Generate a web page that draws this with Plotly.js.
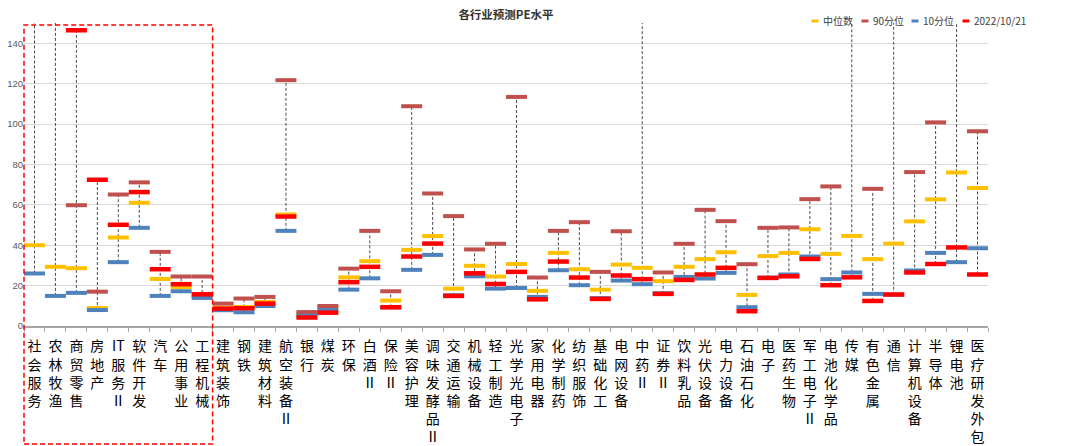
<!DOCTYPE html>
<html>
<head>
<meta charset="utf-8">
<script src="https://cdn.plot.ly/plotly-3.0.1.min.js"></script>
<style>html,body{margin:0;padding:0;background:#fff;}#chart{width:1080px;height:446px;}</style>
</head>
<body>
<div id="chart"></div>
<script>
const categories = ["社会服务","农林牧渔","商贸零售","房地产","IT服务Ⅱ","软件开发","汽车","公用事业","工程机械",
  "建筑装饰","钢铁","建筑材料","航空装备Ⅱ","银行","煤炭","环保","白酒Ⅱ","保险Ⅱ","美容护理","调味发酵品Ⅱ",
  "交通运输","机械设备","轻工制造","光学光电子","家用电器","化学制药","纺织服饰","基础化工","电网设备","中药Ⅱ",
  "证券Ⅱ","饮料乳品","光伏设备","电力设备","石油石化","电子","医药生物","军工电子Ⅱ","电池化学品","传媒",
  "有色金属","通信","计算机设备","半导体","锂电池","医疗研发外包"];

const median = [40, 29.3, 28.6, 8.9, 43.8, 61.0, 23.3, 19.3, 14.8, 9.1, 9.4, 11.9, 55.2, 6.0, 9.1, 24.1, 32.1, 12.6, 37.7, 44.5,
  18.5, 29.8, 24.5, 30.7, 17.4, 36.2, 28.1, 18.0, 30.4, 28.8, 22.2, 29.3, 33.1, 36.5, 15.4, 34.6, 36.2, 47.9, 35.7, 44.6,
  33.1, 40.8, 51.8, 62.7, 76.0, 68.3];
const p90 = [220, 200, 59.8, 17.0, 65.1, 71.1, 36.7, 24.5, 24.5, 11.1, 13.6, 14.4, 121.7, 6.9, 9.9, 28.4, 47.1, 17.2, 108.8, 65.6,
  54.4, 37.9, 40.7, 113.4, 24.0, 47.1, 51.4, 26.8, 46.9, 180, 26.5, 40.7, 57.5, 51.9, 30.6, 48.6, 48.8, 62.8, 69.1, 170,
  67.9, 190, 76.2, 100.8, 160, 96.4];
const p10 = [26.0, 14.9, 16.4, 7.9, 31.6, 48.6, 14.9, 17.2, 13.9, 7.8, 6.8, 9.9, 47.1, 5.1, 7.9, 18.0, 23.6, 9.2, 27.8, 35.2,
  15.2, 24.6, 18.5, 18.8, 14.4, 27.6, 20.2, 13.8, 22.5, 20.7, 16.2, 24.3, 23.5, 26.3, 9.3, 23.9, 25.5, 34.4, 23.2, 26.5,
  15.9, 15.5, 27.5, 36.2, 31.6, 38.5];
const current = [170, 160, 146.4, 72.4, 50.1, 66.3, 28.1, 20.7, 15.7, 8.6, 8.8, 11.1, 54.2, 4.2, 6.6, 21.7, 29.3, 9.3, 34.4, 40.8,
  14.9, 26.1, 20.8, 26.8, 13.2, 31.9, 24.0, 13.4, 25.0, 23.2, 15.9, 22.8, 25.5, 28.8, 7.3, 23.8, 24.6, 33.2, 20.2, 24.1,
  12.4, 15.6, 26.5, 30.7, 38.9, 25.5];

const seriesNames = ["中位数", "90分位", "10分位", "2022/10/21"];
const yTicks = [0, 20, 40, 60, 80, 100, 120, 140];
const highlightCount = 9; // first 9 industries boxed

const tickText = categories.map(c => c.match(/IT|./g).join("<br>"));
const colors = ["#FFC000", "#C0504D", "#4F81BD", "#FF0000"];

// plot geometry (px) used for the compact legend placement
const W = 1080, H = 446, M = {l: 24, r: 92, t: 23, b: 120};
const PW = W - M.l - M.r, PH = H - M.t - M.b;
const px2x = p => (p - M.l) / PW;
const py2y = p => (H - M.b - p) / PH;

// high-low lines
const hlX = [], hlY = [];
categories.forEach((c, i) => {
  const vals = [median[i], p90[i], p10[i], current[i]];
  hlX.push(c, c, null);
  hlY.push(Math.min(...vals), Math.max(...vals), null);
});

const traces = [
  {x: hlX, y: hlY, type: "scatter", mode: "lines", showlegend: false, hoverinfo: "skip",
   line: {color: "#4a4a4a", width: 1, dash: "3px,2px"}}
];
const widths = [4, 4, 4, 4.5];
[median, p90, p10, current].forEach((arr, k) => {
  traces.push({
    x: categories, y: arr, type: "scatter", mode: "markers", name: seriesNames[k], showlegend: false,
    marker: {symbol: "line-ew", size: 15, color: colors[k], line: {color: colors[k], width: widths[k]}}
  });
});

// compact legend (Excel style): small dash + label
const legendSym = [815, 865, 915, 966];
const legendY = 21;
const legendShapes = seriesNames.map((n, k) => ({
  type: "line", xref: "paper", yref: "paper",
  x0: px2x(legendSym[k] - 3.5), x1: px2x(legendSym[k] + 3.5), y0: py2y(legendY), y1: py2y(legendY),
  line: {color: colors[k], width: 3}
}));
const legendAnn = seriesNames.map((n, k) => ({
  text: n, xref: "paper", yref: "paper", x: px2x(legendSym[k] + 6), y: py2y(legendY),
  xanchor: "left", yanchor: "middle", showarrow: false,
  font: {family: "Noto Sans CJK SC", size: 10, color: "#404040"}
}));

const layout = {
  width: W, height: H,
  margin: {l: M.l, r: M.r, t: M.t, b: M.b, autoexpand: false},
  paper_bgcolor: "#fff", plot_bgcolor: "#fff",
  title: {text: "<b>各行业预测PE水平</b>", x: 0.5, xref: "paper", y: 0.966, yanchor: "middle",
          font: {family: "Noto Sans CJK SC", size: 11.5, color: "#333"}},
  font: {family: "Noto Sans CJK SC", color: "#000"},
  showlegend: false,
  xaxis: {type: "category", tickvals: categories, ticktext: tickText, tickangle: 0,
          tickfont: {family: "Noto Sans CJK SC", size: 14, color: "#000"},
          showline: true, linecolor: "#a6a6a6", linewidth: 1.5, ticklabelstandoff: 7,
          ticks: "outside", tickson: "boundaries", ticklen: 4, tickcolor: "#a6a6a6",
          showgrid: false, zeroline: false, range: [-0.5, categories.length - 0.5], fixedrange: true},
  yaxis: {range: [0, 150], tickvals: yTicks, showgrid: true, gridcolor: "#d9d9d9", gridwidth: 1,
          zeroline: false, showline: false, tickfont: {family: "Liberation Sans", size: 9.5, color: "#595959"},
          ticks: "", fixedrange: true},
  annotations: legendAnn,
  shapes: [{type: "rect", xref: "paper", yref: "paper",
            x0: 0, x1: highlightCount / categories.length, y0: py2y(444), y1: py2y(25),
            line: {color: "#FF0000", width: 1.5, dash: "5px,3px"}, fillcolor: "rgba(0,0,0,0)"}].concat(legendShapes)
};

Plotly.newPlot("chart", traces, layout, {displayModeBar: false, staticPlot: true});
</script>
</body>
</html>
